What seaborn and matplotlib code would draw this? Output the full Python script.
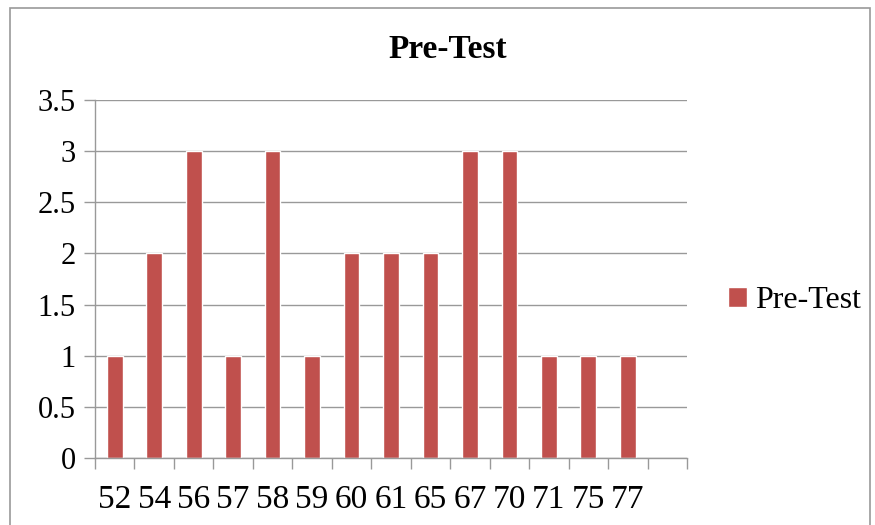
import matplotlib
matplotlib.use("Agg")
import matplotlib.pyplot as plt
import seaborn as sns
import pandas as pd
from matplotlib.patches import Rectangle
from matplotlib.ticker import MultipleLocator, FixedLocator

categories = ["52", "54", "56", "57", "58", "59", "60", "61", "65", "67", "70", "71", "75", "77"]
values = [1, 2, 3, 1, 3, 1, 2, 2, 2, 3, 3, 1, 1, 1]
series_name = "Pre-Test"
bar_color = "#C0504D"

df = pd.DataFrame({"score": categories, "count": values, "series": series_name})

sns.set_style("white")
plt.rcParams["font.family"] = ["Liberation Serif", "DejaVu Serif"]
plt.rcParams["text.color"] = "black"
plt.rcParams["xtick.labelcolor"] = "black"
plt.rcParams["ytick.labelcolor"] = "black"

fig = plt.figure(figsize=(8.75, 5.25), dpi=100)
ax = fig.add_axes([95 / 875, 1 - 458 / 525, (687 - 95) / 875, (458 - 100) / 525])

sns.barplot(data=df, x="score", y="count", hue="series", order=categories,
            palette=[bar_color], width=0.4, ax=ax, saturation=1)

ax.set_xlim(-0.5, len(categories) + 0.5)
ax.set_ylim(0, 3.5)
ax.yaxis.set_major_locator(MultipleLocator(0.5))
ax.set_yticklabels([f"{v:g}" for v in ax.get_yticks()])
ax.grid(axis="y", color="#999999", linewidth=1)
ax.set_axisbelow(True)

ax.xaxis.set_minor_locator(FixedLocator([i - 0.5 for i in range(len(categories) + 2)]))
ax.tick_params(axis="x", which="both", bottom=True)
ax.tick_params(axis="x", which="major", length=0, labelsize=24, pad=19, labelcolor="black")
ax.tick_params(axis="x", which="minor", length=8, width=1, color="#999999", direction="out")
ax.tick_params(axis="y", which="major", length=8, width=1, color="#999999", labelsize=22, pad=6,
               direction="out", left=True, labelcolor="black")
ax.set_xlabel("")
ax.set_ylabel("")

for s in ["top", "right"]:
    ax.spines[s].set_visible(False)
for s in ["left", "bottom"]:
    ax.spines[s].set_color("#999999")
    ax.spines[s].set_linewidth(1)

fig.text(448 / 875, 1 - 49 / 525, "Pre-Test", fontsize=24, fontweight="bold",
         ha="center", va="center", color="black")

leg = ax.legend(loc="center left", bbox_to_anchor=(1.02, 0.44), frameon=False,
                fontsize=23, handlelength=0.6, handleheight=0.6, handletextpad=0.25)
for t in leg.get_texts():
    t.set_color("black")

fig.patches.append(Rectangle((10 / 875, -0.05), (870 - 10) / 875, 1.05 - 8 / 525,
                             transform=fig.transFigure, fill=False,
                             edgecolor="#999999", linewidth=1.2))

fig.savefig("out.png", dpi=100)
